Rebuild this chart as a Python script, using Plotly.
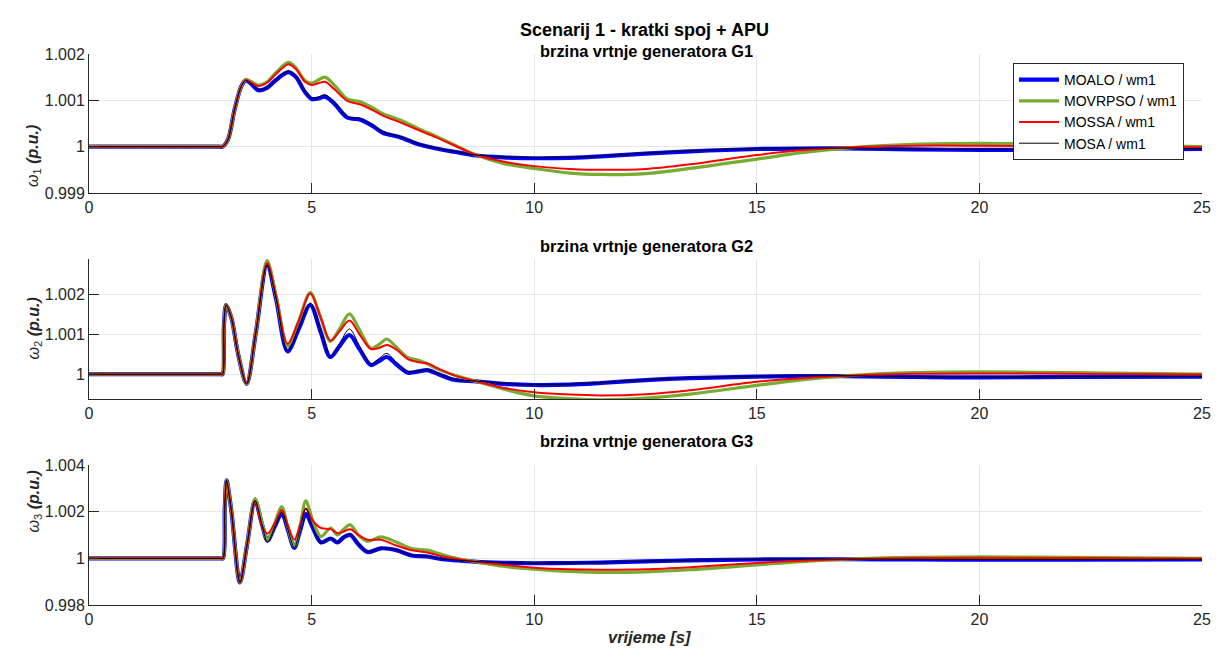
import plotly.graph_objects as go

# ---------------- data ----------------
SERIES = ["MOALO / wm1", "MOVRPSO / wm1", "MOSSA / wm1", "MOSA / wm1"]

T1 = [0, 2.9, 3.0, 3.12, 3.27, 3.42, 3.52, 3.65, 3.8, 4.0, 4.2, 4.48, 4.65, 4.85, 5.0, 5.15, 5.3, 5.5, 5.8, 6.1,
      6.35, 6.6, 7.0, 7.4, 7.8, 8.2, 8.7, 9.3, 10.0, 10.8, 11.5, 12.5, 13.5, 15, 16, 17, 18.5, 20, 22, 25]
G1_MOALO = [1.0, 1.0, 1.0, 1.00015, 1.0008, 1.0013, 1.00143, 1.00135, 1.00122, 1.00127, 1.00144, 1.00161, 1.0015,
            1.00118, 1.00103, 1.00104, 1.00108, 1.00094, 1.00063, 1.00058, 1.00046, 1.0003, 1.0002, 1.00005,
            0.99996, 0.99989, 0.99981, 0.99977, 0.99975, 0.99976, 0.99979, 0.99985, 0.9999, 0.99995, 0.99996,
            0.99996, 0.99994, 0.99993, 0.99993, 0.99995]
G1_MOVRPSO = [1.0, 1.0, 1.0, 1.00015, 1.0008, 1.0013, 1.00145, 1.0014, 1.00133, 1.0014, 1.0016, 1.00182, 1.0017,
              1.00143, 1.00137, 1.00144, 1.0015, 1.00134, 1.00103, 1.00097, 1.00085, 1.00071, 1.00057, 1.00039,
              1.00022, 1.00004, 0.99982, 0.99964, 0.99953, 0.99943, 0.9994, 0.99942, 0.99953, 0.99973, 0.99987,
              0.99997, 1.00005, 1.00007, 1.00005, 1.0]
G1_MOSSA = [1.0, 1.0, 1.0, 1.00015, 1.0008, 1.0013, 1.00144, 1.00138, 1.00131, 1.00138, 1.00157, 1.00178, 1.00167,
            1.0014, 1.00133, 1.00137, 1.0014, 1.00125, 1.00099, 1.00091, 1.0008, 1.00067, 1.00052, 1.00036,
            1.0002, 1.00003, 0.99982, 0.99968, 0.99958, 0.99952, 0.9995, 0.99952, 0.99962, 0.99982, 0.99992,
            0.99998, 1.00002, 1.00002, 1.00001, 0.99999]
G1_MOSA = [1.0, 1.0, 1.0, 1.00015, 1.0008, 1.0013, 1.00143, 1.00136, 1.00123, 1.00128, 1.00146, 1.00163, 1.00152,
           1.0012, 1.00105, 1.00107, 1.00112, 1.00097, 1.00065, 1.00061, 1.00048, 1.00032, 1.00021, 1.00006,
           0.99997, 0.9999, 0.99982, 0.99978, 0.99976, 0.99977, 0.9998, 0.99986, 0.99991, 0.99996, 0.99997,
           0.99997, 0.99995, 0.99994, 0.99994, 0.99996]

T2 = [0, 2.95, 3.0, 3.03, 3.08, 3.2, 3.35, 3.54, 3.75, 4.0, 4.2, 4.46, 4.7, 4.97, 5.2, 5.42, 5.62, 5.85, 6.08, 6.33,
      6.5, 6.69, 6.9, 7.16, 7.4, 7.6, 7.85, 8.2, 8.7, 9.3, 10, 10.8, 11.5, 12.5, 13.5, 15, 16, 17, 18.5, 20, 22, 25]
G2_MOALO = [1.0, 1.0, 1.0, 1.0012, 1.00173, 1.0014, 1.0005, 0.99976, 1.00106, 1.00273, 1.00189, 1.00057, 1.0011,
            1.00173, 1.00107, 1.00043, 1.00069, 1.00098, 1.00062, 1.00023, 1.00032, 1.00043, 1.00025, 1.00004,
            1.00007, 1.0001, 1.0, 0.99986, 0.99982, 0.99976, 0.99973, 0.99974, 0.99978, 0.99985, 0.9999, 0.99994,
            0.99995, 0.99995, 0.99993, 0.99992, 0.99993, 0.99994]
G2_MOVRPSO = [1.0, 1.0, 1.0, 1.0012, 1.00173, 1.0014, 1.0005, 0.99976, 1.00108, 1.00284, 1.00197, 1.00071, 1.0013,
              1.00204, 1.00143, 1.00082, 1.00112, 1.00151, 1.0011, 1.00065, 1.00073, 1.00088, 1.00068, 1.00042,
              1.00035, 1.00026, 1.00012, 0.99998, 0.99982, 0.99963, 0.99946, 0.99939, 0.99936, 0.9994, 0.9995,
              0.99972, 0.99986, 0.99996, 1.00004, 1.00006, 1.00004, 1.0]
G2_MOSSA = [1.0, 1.0, 1.0, 1.0012, 1.00173, 1.0014, 1.0005, 0.99976, 1.00108, 1.00278, 1.00195, 1.00076, 1.0013,
            1.00202, 1.00143, 1.00084, 1.00106, 1.00134, 1.00099, 1.00063, 1.00065, 1.00073, 1.00062, 1.00038,
            1.0003, 1.00027, 1.00014, 0.99997, 0.99982, 0.99966, 0.99955, 0.99949, 0.99947, 0.9995, 0.9996,
            0.99981, 0.9999, 0.99996, 1.00001, 1.00002, 1.00001, 0.99999]
G2_MOSA = [1.0, 1.0, 1.0, 1.0012, 1.00173, 1.0014, 1.0005, 0.99976, 1.00106, 1.00273, 1.00191, 1.00059, 1.00114,
           1.00178, 1.0011, 1.00045, 1.00075, 1.00113, 1.0007, 1.00026, 1.00038, 1.00052, 1.0003, 1.00007,
           1.00008, 1.00011, 1.00001, 0.99987, 0.99983, 0.99977, 0.99974, 0.99975, 0.99979, 0.99986, 0.99991,
           0.99995, 0.99996, 0.99996, 0.99994, 0.99993, 0.99994, 0.99995]

T3 = [0, 2.95, 3.01, 3.05, 3.09, 3.2, 3.39, 3.55, 3.73, 3.88, 4.01, 4.17, 4.33, 4.47, 4.61, 4.74, 4.87, 5.03, 5.21,
      5.43, 5.58, 5.72, 5.87, 6.05, 6.26, 6.56, 6.9, 7.25, 7.6, 7.9, 8.3, 8.7, 9.3, 10, 10.8, 11.5, 12.5, 13.5, 15,
      16, 17, 18.5, 20, 22, 25]
G3_MOALO = [1.0, 1.0, 1.0, 1.0022, 1.00334, 1.002, 0.99897, 1.00058, 1.00248, 1.0015, 1.00077, 1.00135, 1.00193,
            1.0012, 1.00045, 1.00118, 1.0019, 1.0013, 1.00068, 1.00085, 1.00068, 1.0009, 1.001, 1.0006, 1.00027,
            1.00043, 1.00035, 1.00012, 1.00008, 0.99997, 0.99991, 0.99985, 0.99981, 0.99979, 0.9998, 0.99982,
            0.99987, 0.99991, 0.99995, 0.99996, 0.99996, 0.99995, 0.99994, 0.99994, 0.99995]
G3_MOVRPSO = [1.0, 1.0, 1.0, 1.0022, 1.00334, 1.002, 0.99897, 1.00058, 1.00256, 1.00158, 1.0008, 1.0015, 1.00221,
              1.0013, 1.00052, 1.0014, 1.00246, 1.0016, 1.00094, 1.0013, 1.001, 1.00125, 1.00144, 1.001, 1.00073,
              1.00092, 1.0007, 1.00042, 1.00035, 1.00018, 0.99998, 0.99985, 0.99966, 0.99954, 0.99944, 0.9994,
              0.99942, 0.99951, 0.99972, 0.99986, 0.99996, 1.00004, 1.00006, 1.00004, 1.0]
G3_MOSSA = [1.0, 1.0, 1.0, 1.0022, 1.00334, 1.002, 0.99897, 1.00058, 1.00246, 1.0014, 1.00106, 1.0015, 1.00207,
            1.0014, 1.0008, 1.0014, 1.00214, 1.0016, 1.0013, 1.00125, 1.00108, 1.00115, 1.00125, 1.001, 1.0008,
            1.0008, 1.00055, 1.00035, 1.00025, 1.0001, 0.99996, 0.99985, 0.99972, 0.9996, 0.99953, 0.99951,
            0.99953, 0.99962, 0.9998, 0.9999, 0.99996, 1.00001, 1.00002, 1.00001, 0.99999]
G3_MOSA = [1.0, 1.0, 1.0, 1.0022, 1.00334, 1.002, 0.99897, 1.00058, 1.00248, 1.0015, 1.00068, 1.00135, 1.00196,
           1.00122, 1.00045, 1.00125, 1.00214, 1.0013, 1.00068, 1.00088, 1.0007, 1.00093, 1.00104, 1.00062,
           1.00028, 1.00045, 1.00036, 1.00013, 1.00009, 0.99998, 0.99992, 0.99986, 0.99982, 0.9998, 0.99981,
           0.99983, 0.99988, 0.99992, 0.99996, 0.99997, 0.99997, 0.99996, 0.99995, 0.99995, 0.99996]

X_TICKS = [0, 5, 10, 15, 20, 25]
Y1_TICKS = [0.999, 1.0, 1.001, 1.002]
Y1_LABELS = ["0.999", "1", "1.001", "1.002"]
Y2_TICKS = [1.0, 1.001, 1.002]
Y2_LABELS = ["1", "1.001", "1.002"]
Y3_TICKS = [0.998, 1.0, 1.002, 1.004]
Y3_LABELS = ["0.998", "1", "1.002", "1.004"]

TITLE = "Scenarij 1 - kratki spoj + APU"
SUBTITLES = ["brzina vrtnje generatora G1", "brzina vrtnje generatora G2", "brzina vrtnje generatora G3"]
XLABEL = "vrijeme [s]"

# ---------------- styling ----------------
# the page body has an 8px margin, so the figure is drawn 8px smaller and
# reference pixel positions are shifted by that offset
OFF = 8
W, H = 1223 - OFF, 662 - OFF
FONT = "Liberation Sans, Arial, Helvetica, sans-serif"
STYLE = [("#0000ff", 4.2), ("#77ac30", 3.2), ("#ff0000", 2.0), ("#000000", 1.0)]

def px_x(p):
    return (p - OFF) / W

def px_y(p):
    return 1 - (p - OFF) / H

XL, XR = 89, 1202
PANELS = [(54, 193), (259, 399), (465, 605)]
YRANGES = [[0.999, 1.002], [0.99938, 1.00288], [0.998, 1.004]]
YTICKS = [(Y1_TICKS, Y1_LABELS), (Y2_TICKS, Y2_LABELS), (Y3_TICKS, Y3_LABELS)]
DATA = [(T1, [G1_MOALO, G1_MOVRPSO, G1_MOSSA, G1_MOSA]),
        (T2, [G2_MOALO, G2_MOVRPSO, G2_MOSSA, G2_MOSA]),
        (T3, [G3_MOALO, G3_MOVRPSO, G3_MOSSA, G3_MOSA])]

fig = go.Figure()
for i, (t, ys) in enumerate(DATA):
    sfx = "" if i == 0 else str(i + 1)
    for name, y, (col, w) in zip(SERIES, ys, STYLE):
        fig.add_trace(go.Scatter(
            x=t, y=y, mode="lines", name=name,
            line=dict(color=col, width=w, shape="spline", smoothing=0.9),
            xaxis="x" + sfx, yaxis="y" + sfx, showlegend=(i == 0), hoverinfo="skip"))

layout = dict(
    width=W, height=H, margin=dict(l=0, r=0, t=0, b=0, autoexpand=False),
    paper_bgcolor="white", plot_bgcolor="white",
    font=dict(family=FONT, color="#262626", size=16),
    legend=dict(x=px_x(1013), y=px_y(63), xanchor="left", yanchor="top",
                bgcolor="white", bordercolor="#262626", borderwidth=1,
                font=dict(size=14, color="#000000"), tracegroupgap=0,
                itemwidth=40),
    showlegend=True,
)
axis_common = dict(showgrid=True, gridcolor="#e6e6e6", gridwidth=1, zeroline=False,
                   showline=True, linecolor="#262626", linewidth=1, ticks="inside",
                   ticklen=10, tickcolor="#262626", tickfont=dict(size=16, color="#262626"),
                   mirror=False, automargin=False)
for i, (top, bot) in enumerate(PANELS):
    sfx = "" if i == 0 else str(i + 1)
    layout["xaxis" + sfx] = dict(axis_common, domain=[px_x(XL), px_x(XR)], range=[0, 25],
                                 tickvals=X_TICKS, ticktext=[str(v) for v in X_TICKS],
                                 anchor="y" + sfx)
    layout["yaxis" + sfx] = dict(axis_common, domain=[px_y(bot), px_y(top)], range=YRANGES[i],
                                 tickvals=YTICKS[i][0], ticktext=YTICKS[i][1],
                                 anchor="x" + sfx)

ann = []
ann.append(dict(text="<b>" + TITLE + "</b>", x=px_x(644), y=px_y(18), xref="paper", yref="paper",
                showarrow=False, font=dict(size=18, color="#000000")))
for i, (s, yy) in enumerate(zip(SUBTITLES, [40, 246, 452])):
    ann.append(dict(text="<b>" + s + "</b>", x=px_x(646), y=px_y(yy), xref="paper", yref="paper",
                    showarrow=False, font=dict(size=16.4, color="#000000")))
for i, (top, bot) in enumerate(PANELS):
    ann.append(dict(text="<i>ω</i><sub>%d</sub> <b><i>(p.u.)</i></b>" % (i + 1),
                    x=px_x(22), y=px_y((top + bot) / 2), xref="paper", yref="paper",
                    textangle=-90, showarrow=False, font=dict(size=16, color="#262626")))
ann.append(dict(text="<b><i>" + XLABEL + "</i></b>", x=px_x(649), y=px_y(648), xref="paper", yref="paper",
                showarrow=False, font=dict(size=16.5, color="#262626")))
layout["annotations"] = ann

fig.update_layout(**layout)
fig.write_html("out.html")
